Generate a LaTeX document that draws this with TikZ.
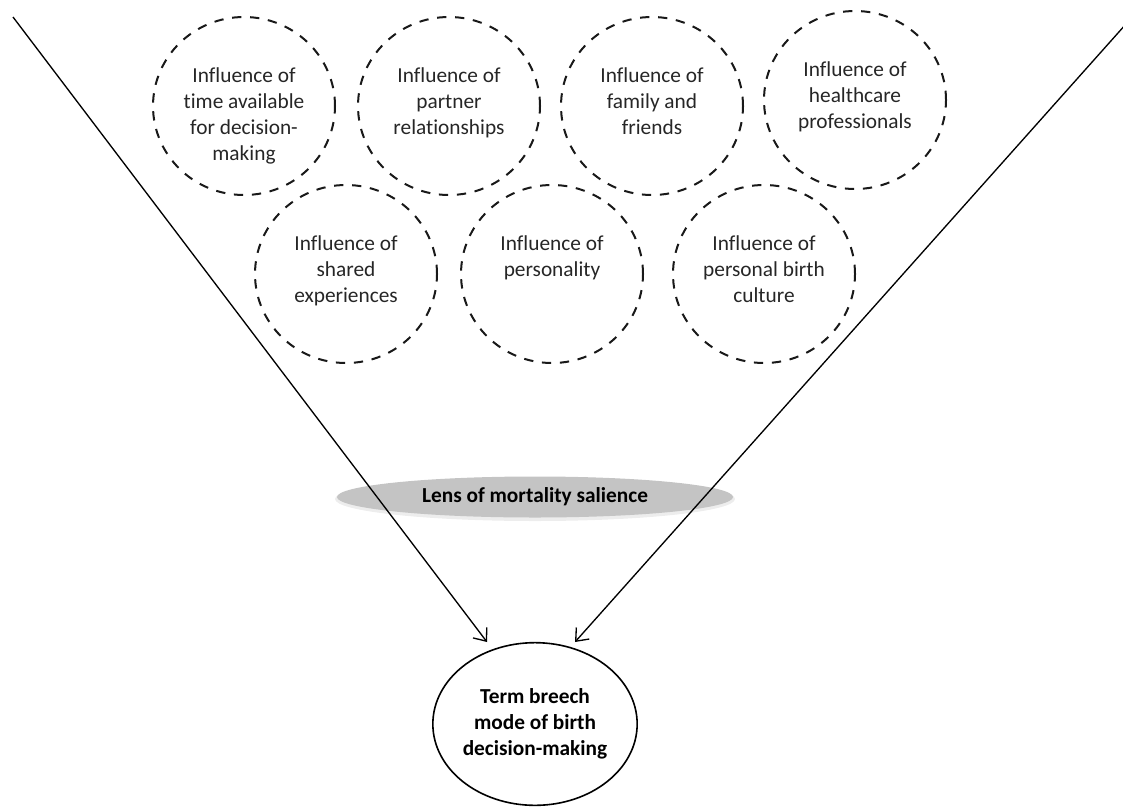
\documentclass[tikz,border=0pt]{standalone}
\usepackage{fontspec}
\setmainfont{Carlito}[Ligatures={NoCommon}]
\usetikzlibrary{arrows.meta,shapes.geometric}
\begin{document}
\begin{tikzpicture}[x=0.75pt,y=-0.75pt,
  factor/.style={ellipse,draw=black!90,line width=1.5pt,dash pattern=on 7pt off 6.5pt,
    minimum width=136.5pt,minimum height=133.5pt,inner sep=0pt},
  factortext/.style={anchor=north,align=center,inner sep=0pt,text=black!85,
    font=\fontsize{16}{19.5}\selectfont},
  lens/.style={ellipse,fill=black!23,minimum width=297pt,minimum height=30.75pt,inner sep=0pt,
    font=\bfseries\fontsize{16}{19.5}\selectfont},
  lensshadow/.style={ellipse,fill=black!7,minimum width=300pt,minimum height=33pt,inner sep=0pt},
  outcome/.style={ellipse,draw=black,line width=1.2pt,minimum width=139.5pt,minimum height=122pt,
    inner sep=0pt,align=center,font=\bfseries\fontsize{16}{19.5}\selectfont},
  funnel/.style={line width=1pt,-{Straight Barb[length=8pt,width=13pt]}}]
\path[use as bounding box] (0,0) rectangle (1123,807);
% dashed influence circles
\node[factor] (c1) at (244,106) {};
\node[factor] (c2) at (449,106) {};
\node[factor] (c3) at (652,106) {};
\node[factor] (c4) at (855,100) {};
\node[factor] (c5) at (346,274) {};
\node[factor] (c6) at (552,274) {};
\node[factor] (c7) at (764,274) {};
\node[factortext] (t1) at (244,67) {Influence of\\time available\\for decision-\\making};
\node[factortext] (t2) at (449,67) {Influence of\\partner\\relationships};
\node[factortext] (t3) at (652,67) {Influence of\\family and\\friends};
\node[factortext] (t4) at (855,61) {Influence of\\healthcare\\professionals};
\node[factortext] (t5) at (346,235) {Influence of\\shared\\experiences};
\node[factortext] (t6) at (552,235) {Influence of\\personality};
\node[factortext] (t7) at (764,235) {Influence of\\personal birth\\culture};
% lens
\node[lensshadow] (lsh) at (535,499) {};
\node[lens] (lens) at (535,497) {Lens of mortality salience};
% outcome
\node[outcome] (out) at (535,724) {Term breech\\mode of birth\\decision-making};
% funnel lines
\coordinate (ls) at (13,17);
\coordinate (lt) at (487,642);
\coordinate (rs) at (1126,24);
\coordinate (rt) at (575,642);
\draw[funnel] (ls) -- (lt);
\draw[funnel] (rs) -- (rt);
\end{tikzpicture}
\end{document}
